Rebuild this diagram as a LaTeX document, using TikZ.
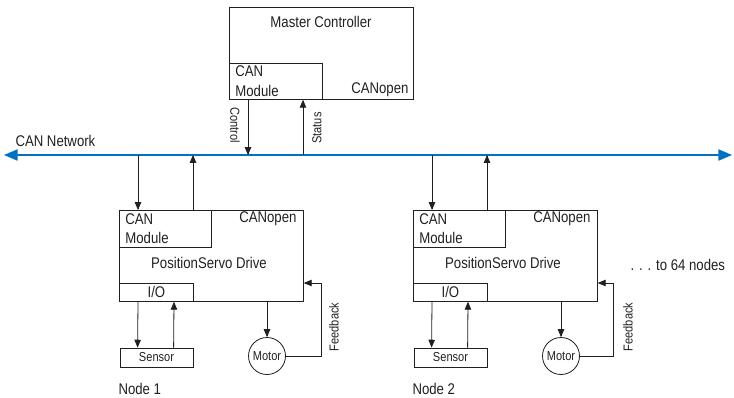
\documentclass[tikz,border=0pt]{standalone}
\usepackage{fontspec}
\setmainfont{Liberation Sans}[FakeStretch=0.85]
\usepackage{tikz}
\usepackage{xcolor}
\usetikzlibrary{arrows}

\begin{document}
\begin{tikzpicture}[x=1pt, y=-1pt,
		box/.style={draw, line width=0.8pt, color=LINE_GRAY, inner sep=0pt},
		canbox/.style={box, anchor=north west, align=left, text width=80pt, inner xsep=6pt, minimum height=37pt},
		lbl/.style={font=\fontsize{15.5}{19.5}\selectfont, color=LINE_GRAY},
		small/.style={font=\fontsize{13}{15}\selectfont, color=LINE_GRAY},
		arr/.style={-triangle 45, line width=0.8pt, color=LINE_GRAY},
		net/.style={triangle 45-triangle 45, line width=2.2pt, color=NET_BLUE}]
				\definecolor{NET_BLUE}{RGB}{0, 114, 198}
				\definecolor{LINE_GRAY}{RGB}{35, 31, 32}
				\useasboundingbox (0,0) rectangle (734,397);

				\begin{scope}
					\node[box, minimum width=184pt, minimum height=92pt, anchor=north west] (master) at (229,7) {};
					\node[lbl] (mastertitle) at (321,22) {Master Controller};
					\node[box, lbl, anchor=south west, align=left, text width=81pt, inner xsep=6pt, minimum height=36pt] 
						(mastercan) at (master.south west) {CAN\\Module};
					\node[lbl, anchor=east] (masteropen) at (412,90) {CANopen};
				\end{scope}

				\begin{scope}
					\coordinate (netL) at (4,155);
					\coordinate (netR) at (732,155);
					\draw[net] (netL) -- (netR);
					\node[lbl, anchor=west] (netlabel) at (12,141) {CAN Network};
					\coordinate (ctrl) at (248,155);
					\coordinate (stat) at (303,155);
					\draw[arr] (ctrl |- master.south) -- (ctrl);
					\draw[arr] (stat) -- (stat |- master.south);
					\node[small, rotate=-90] (ctrllabel) at (235,125) {Control};
					\node[small, rotate=90] (statlabel) at (317,128) {Status};
				\end{scope}

				\begin{scope}
					\node[box, minimum width=184pt, minimum height=91pt, anchor=north west] (drive1) at (119,210) {};
					\node[canbox, lbl] (can1) at (drive1.north west) {CAN\\Module};
					\node[lbl, anchor=east] (open1) at (300,219) {CANopen};
					\node[lbl] (name1) at (209,263) {PositionServo Drive};
					\node[box, lbl, anchor=south west, minimum width=74pt, minimum height=18pt] (io1) at (drive1.south west) {I/O};
					\node[box, small, minimum width=73pt, minimum height=19pt] (sensor1) at (156.5,357.5) {Sensor};
					\node[box, small, circle, minimum size=37pt] (motor1) at (267,356) {Motor};
					\coordinate (netin1) at (138,155);
					\coordinate (netout1) at (193,155);
					\coordinate (fb1) at (321,283);
					\draw[arr] (netin1) -- (netin1 |- drive1.north);
					\draw[arr] (netout1 |- drive1.north) -- (netout1);
					\draw[arr] ([xshift=19pt]io1.south west) -- ([xshift=18pt]sensor1.north west);
					\draw[arr] ([xshift=54pt]sensor1.north west) -- ([xshift=55pt]io1.south west);
					\draw[arr] (motor1 |- drive1.south) -- (motor1.north);
					\draw[arr] (motor1.east) -| (fb1) -- (fb1 -| drive1.east);
					\node[small, rotate=90] (fblabel1) at (334,327) {Feedback};
					\node[lbl, anchor=west] (node1) at (115,389) {Node 1};
				\end{scope}

				\begin{scope}
					\node[box, minimum width=184pt, minimum height=91pt, anchor=north west] (drive2) at (413,210) {};
					\node[canbox, lbl] (can2) at (drive2.north west) {CAN\\Module};
					\node[lbl, anchor=east] (open2) at (594,219) {CANopen};
					\node[lbl] (name2) at (503,263) {PositionServo Drive};
					\node[box, lbl, anchor=south west, minimum width=74pt, minimum height=18pt] (io2) at (drive2.south west) {I/O};
					\node[box, small, minimum width=73pt, minimum height=19pt] (sensor2) at (450.5,357.5) {Sensor};
					\node[box, small, circle, minimum size=37pt] (motor2) at (561,356) {Motor};
					\coordinate (netin2) at (432,155);
					\coordinate (netout2) at (487,155);
					\coordinate (fb2) at (613,283);
					\draw[arr] (netin2) -- (netin2 |- drive2.north);
					\draw[arr] (netout2 |- drive2.north) -- (netout2);
					\draw[arr] ([xshift=19pt]io2.south west) -- ([xshift=18pt]sensor2.north west);
					\draw[arr] ([xshift=54pt]sensor2.north west) -- ([xshift=55pt]io2.south west);
					\draw[arr] (motor2 |- drive2.south) -- (motor2.north);
					\draw[arr] (motor2.east) -| (fb2) -- (fb2 -| drive2.east);
					\node[small, rotate=90] (fblabel2) at (628,327) {Feedback};
					\node[lbl, anchor=west] (node2) at (409,389) {Node 2};
				\end{scope}

				\node[lbl, anchor=west] (more) at (627,265) {. . . to 64 nodes};
			\end{tikzpicture}
\end{document}
